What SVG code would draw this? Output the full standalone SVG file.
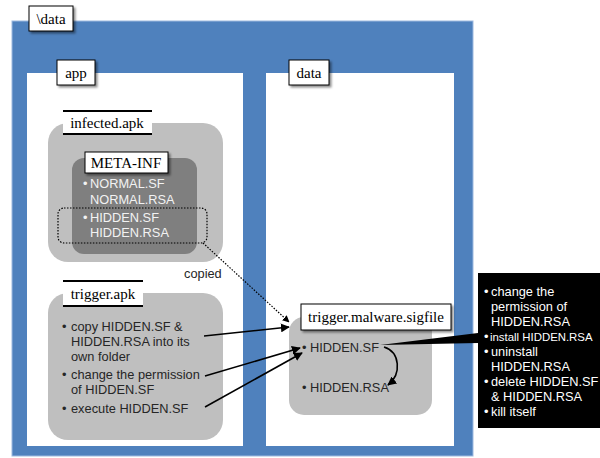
<svg xmlns="http://www.w3.org/2000/svg" width="600" height="458" viewBox="0 0 600 458">
<defs>
<style>
.serif{font-family:"Liberation Serif","Times New Roman",serif;font-size:15px;fill:#000;text-anchor:middle}
.sans{font-family:"Liberation Sans",Arial,sans-serif;font-size:12.8px;fill:#262626}
.light{fill:#f2f2f2}
.white{fill:#ffffff}
.lbl{fill:#fff;stroke:#000;stroke-width:1}
.bar{stroke:#000;stroke-width:2}
.arr{fill:none;stroke:#000;stroke-width:1.6}
</style>
<filter id="sh" x="-20%" y="-20%" width="150%" height="160%">
<feDropShadow dx="2" dy="2" stdDeviation="1.2" flood-color="#000" flood-opacity="0.45"/>
</filter>
<marker id="ah" viewBox="0 0 10 10" refX="9" refY="5" markerWidth="9" markerHeight="9" markerUnits="userSpaceOnUse" orient="auto">
<path d="M0,0 L10,5 L0,10 z" fill="#000"/>
</marker>
<marker id="ahs" viewBox="0 0 10 10" refX="9" refY="5" markerWidth="7" markerHeight="7" markerUnits="userSpaceOnUse" orient="auto">
<path d="M0,0 L10,5 L0,10 z" fill="#000"/>
</marker>
</defs>

<g id="frame-data">
<rect x="12" y="21" width="461" height="435" fill="#4F81BD" stroke="#9DB9E0" stroke-width="1"/>
<rect x="29" y="6" width="44" height="25" class="lbl" filter="url(#sh)"/>
<text x="51" y="24" class="serif">\data</text>
</g>

<g id="panel-app">
<rect x="27" y="73" width="216" height="373" fill="#fff"/>
<rect x="57" y="60" width="38" height="25" class="lbl" filter="url(#sh)"/>
<text x="76" y="78" class="serif">app</text>
</g>

<g id="panel-data">
<rect x="266" y="73" width="188" height="373" fill="#fff"/>
<rect x="289" y="60" width="40" height="25" class="lbl" filter="url(#sh)"/>
<text x="309" y="78" class="serif">data</text>
</g>

<g id="infected-apk">
<rect x="48" y="123" width="175" height="139" rx="20" fill="#BFBFBF"/>
<rect x="63" y="111" width="89" height="23" fill="#fff"/>
<line x1="63" y1="111" x2="152" y2="111" class="bar"/>
<line x1="63" y1="134" x2="152" y2="134" class="bar"/>
<text x="107" y="128" class="serif">infected.apk</text>
</g>

<g id="meta-inf">
<rect x="72" y="158" width="125" height="96" rx="12" fill="#7F7F7F"/>
<rect x="85" y="152" width="83" height="21" class="lbl" filter="url(#sh)"/>
<text x="126" y="168" class="serif">META-INF</text>
<text x="83" y="187.5" class="sans light">•</text>
<text x="90" y="187.5" class="sans light">NORMAL.SF</text>
<text x="90" y="203.5" class="sans light">NORMAL.RSA</text>
<text x="83" y="221.5" class="sans light">•</text>
<text x="90" y="221.5" class="sans light">HIDDEN.SF</text>
<text x="90" y="237" class="sans light">HIDDEN.RSA</text>
<rect x="58" y="208" width="149" height="35" rx="6" fill="none" stroke="#000" stroke-width="1.2" stroke-dasharray="1.5,1.5"/>
</g>

<g id="trigger-apk">
<rect x="48" y="293" width="175" height="147" rx="20" fill="#BFBFBF"/>
<rect x="63" y="281" width="80" height="25" fill="#fff"/>
<line x1="63" y1="281" x2="143" y2="281" class="bar"/>
<line x1="63" y1="306" x2="143" y2="306" class="bar"/>
<text x="103" y="299" class="serif">trigger.apk</text>
<text x="62" y="330.5" class="sans">•</text>
<text x="71" y="330.5" class="sans">copy HIDDEN.SF &amp;</text>
<text x="71" y="345.5" class="sans">HIDDEN.RSA into its</text>
<text x="71" y="360.5" class="sans">own folder</text>
<text x="62" y="378.5" class="sans">•</text>
<text x="71" y="378.5" class="sans">change the permission</text>
<text x="71" y="393.5" class="sans">of HIDDEN.SF</text>
<text x="62" y="412.5" class="sans">•</text>
<text x="71" y="412.5" class="sans">execute HIDDEN.SF</text>
</g>

<g id="sigfile">
<rect x="289" y="317" width="143" height="98" rx="15" fill="#BFBFBF"/>
<rect x="301" y="304" width="150" height="26" class="lbl" filter="url(#sh)"/>
<text x="376" y="322" class="serif">trigger.malware.sigfile</text>
<text x="302" y="351.5" class="sans">•</text>
<text x="310" y="351.5" class="sans">HIDDEN.SF</text>
<text x="302" y="391.5" class="sans">•</text>
<text x="310" y="391.5" class="sans">HIDDEN.RSA</text>
</g>

<g id="callout">
<polygon points="380,345 478,333 478,343" fill="#000"/>
<rect x="478" y="273" width="130" height="155" fill="#000"/>
<text x="484" y="295.5" class="sans white">•</text>
<text x="491" y="295.5" class="sans white">change the</text>
<text x="491" y="310.5" class="sans white">permission of</text>
<text x="491" y="325.5" class="sans white">HIDDEN.RSA</text>
<text x="484" y="340.5" class="sans white">•</text>
<text x="490" y="340.5" class="sans white" style="font-size:11.4px">install HIDDEN.RSA</text>
<text x="484" y="355.5" class="sans white">•</text>
<text x="491" y="355.5" class="sans white">uninstall</text>
<text x="491" y="370.5" class="sans white">HIDDEN.RSA</text>
<text x="484" y="385.5" class="sans white">•</text>
<text x="491" y="385.5" class="sans white">delete HIDDEN.SF</text>
<text x="491" y="400.5" class="sans white">&amp; HIDDEN.RSA</text>
<text x="484" y="415.5" class="sans white">•</text>
<text x="491" y="415.5" class="sans white">kill itself</text>
</g>

<g id="connectors">
<line x1="203" y1="243" x2="289" y2="322" fill="none" stroke="#000" stroke-width="1.2" stroke-dasharray="1.5,1.5" marker-end="url(#ahs)"/>
<text x="184" y="277.5" class="sans">copied</text>
<line x1="204" y1="336" x2="289" y2="327" class="arr" marker-end="url(#ah)"/>
<line x1="205" y1="376" x2="300" y2="348" class="arr" marker-end="url(#ah)"/>
<line x1="205" y1="407" x2="302" y2="353" class="arr" marker-end="url(#ah)"/>
<path d="M384,347 C400,352 402,374 388,385" class="arr" marker-end="url(#ah)"/>
</g>
</svg>
